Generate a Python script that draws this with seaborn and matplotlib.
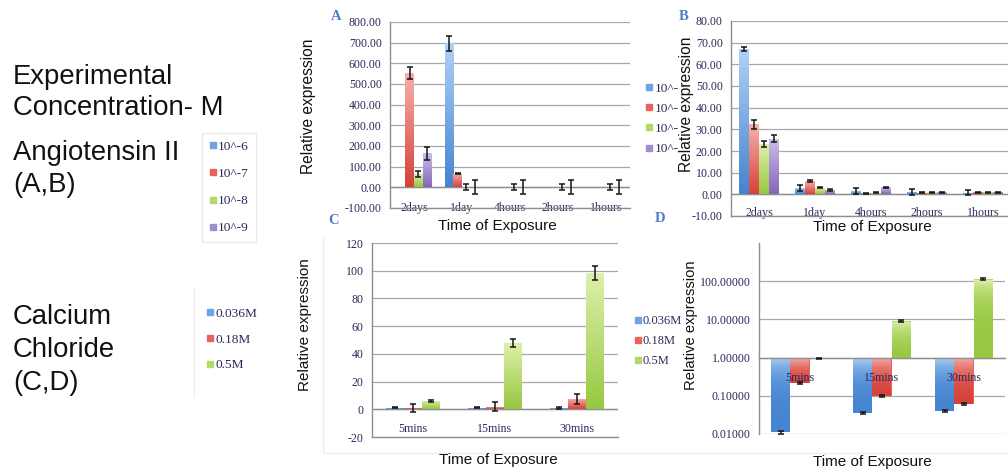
import numpy as np
import pandas as pd
import seaborn as sns
import matplotlib
matplotlib.use("Agg")
import matplotlib.pyplot as plt
from matplotlib.colors import LinearSegmentedColormap
from matplotlib.lines import Line2D
from matplotlib.ticker import FormatStrFormatter
from matplotlib import transforms

# ---------------- data ----------------
# Angiotensin II, panels A and B
ang_times = ["2days", "1day", "4hours", "2hours", "1hours"]
ang_levels = ["10^-6", "10^-7", "10^-8", "10^-9"]

a_1e6 = [2, 697, 3, 3, 3]
a_1e7 = [552, 66, 3, 3, 3]
a_1e8 = [65, 3, 3, 3, 3]
a_1e9 = [164, 1, 1, 1, 1]
a_1e6_err = [0, 37, 0, 0, 0]
a_1e7_err = [28, 3, 0, 0, 0]
a_1e8_err = [15, 15, 15, 15, 15]
a_1e9_err = [32, 34, 34, 34, 34]

b_1e6 = [67.2, 3.0, 1.5, 1.0, 0.8]
b_1e7 = [32.3, 6.0, 0.4, 0.8, 1.0]
b_1e8 = [23.2, 3.0, 0.8, 0.9, 1.0]
b_1e9 = [25.7, 2.0, 3.2, 0.9, 1.0]
b_1e6_err = [1.0, 1.5, 1.5, 1.3, 1.3]
b_1e7_err = [2.0, 0.4, 0.2, 0.2, 0.2]
b_1e8_err = [1.5, 0.3, 0.2, 0.2, 0.2]
b_1e9_err = [1.5, 0.3, 0.3, 0.2, 0.2]

# Calcium chloride, panels C and D
cacl_times = ["5mins", "15mins", "30mins"]
cacl_levels = ["0.036M", "0.18M", "0.5M"]

c_036 = [1.0, 1.0, 1.0]
c_018 = [1.0, 2.0, 7.5]
c_05 = [6.0, 48.0, 98.5]
c_036_err = [0.4, 0.4, 0.5]
c_018_err = [3.0, 3.0, 3.5]
c_05_err = [0.6, 3.0, 5.0]

d_036 = [0.011, 0.036, 0.040]
d_018 = [0.22, 0.10, 0.062]
d_05 = [0.95, 9.0, 112.0]
d_036_err = [0.0007, 0.002, 0.0025]
d_018_err = [0.012, 0.006, 0.004]
d_05_err = [0.05, 0.5, 6.0]

# ---------------- style ----------------
W, H = 1008, 471
sns.set_style("white")
plt.rcParams["font.family"] = ["Liberation Sans", "DejaVu Sans"]

serif = "Liberation Serif"
tick_color = "#2b2a5c"
grid_color = "#a8a8a8"
spine_color = "#8e8e8e"

mid_colors = ["#6ea3e4", "#e9625b", "#b3da68", "#a38bd0"]
top_colors = ["#b0d2f6", "#f7b0ab", "#def0ab", "#cdbde8"]
bottom_colors = ["#4584d0", "#d6413a", "#97c842", "#8566b8"]

fig = plt.figure(figsize=(W / 100, H / 100), dpi=100)


def px_axes(x0, y0, x1, y1):
    """Axes from pixel box (left, top, right, bottom)."""
    return fig.add_axes([x0 / W, 1 - y1 / H, (x1 - x0) / W, (y1 - y0) / H])


def long_frame(cats, levels, series):
    rows = []
    for lvl, vals in zip(levels, series):
        for c, v in zip(cats, vals):
            rows.append((c, lvl, v))
    return pd.DataFrame(rows, columns=["time", "conc", "value"])


def shade(ax, n_series):
    """Paint each bar with a vertical light-to-dark gradient."""
    grad = np.linspace(0, 1, 64).reshape(-1, 1)
    for k, cont in enumerate(ax.containers[:n_series]):
        cmap = LinearSegmentedColormap.from_list(
            f"g{k}", [bottom_colors[k], top_colors[k]])
        for bar in cont:
            x, y = bar.get_xy()
            w, h = bar.get_width(), bar.get_height()
            lo, hi = min(y, y + h), max(y, y + h)
            im = ax.imshow(grad, cmap=cmap, origin="lower", aspect="auto",
                           extent=[x, x + w, lo, hi], zorder=1.1,
                           interpolation="bilinear")
            im.set_clip_path(bar)


def add_errors(ax, series, errs):
    for cont, vals, err in zip(ax.containers, series, errs):
        xs, ys, es = [], [], []
        for bar, v, e in zip(cont, vals, err):
            if e > 0:
                xs.append(bar.get_x() + bar.get_width() / 2)
                ys.append(v)
                es.append(e)
        ax.errorbar(xs, ys, yerr=es, fmt="none", ecolor="#151515",
                    elinewidth=1.1, capsize=2.4, capthick=1.1, zorder=4)


def style_axes(ax, ncat, fmt, label_pad):
    ax.set_axisbelow(True)
    ax.grid(axis="y", color=grid_color, linewidth=0.9)
    ax.grid(axis="x", visible=False)
    for s in ("top", "right"):
        ax.spines[s].set_visible(False)
    for s in ("left", "bottom"):
        ax.spines[s].set_color(spine_color)
        ax.spines[s].set_linewidth(1.0)
    ax.set_xlim(-0.5, ncat - 0.5)
    ax.yaxis.set_major_formatter(FormatStrFormatter(fmt))
    ax.tick_params(axis="y", length=4, width=0.9, color=spine_color,
                   labelsize=8.6, labelcolor=tick_color, pad=2)
    ax.tick_params(axis="x", length=0, labelsize=8.6, labelcolor=tick_color,
                   pad=label_pad)
    for t in ax.get_yticklabels() + ax.get_xticklabels():
        t.set_family(serif)
    for t in ax.get_xticklabels():
        t.set_va("center")
    ax.set_xlabel("")
    ax.set_ylabel("")


def bar_panel(ax, cats, levels, series, width, **kw):
    df = long_frame(cats, levels, series)
    sns.barplot(data=df, x="time", y="value", hue="conc", order=cats,
                hue_order=levels, palette=mid_colors[:len(levels)],
                width=width, saturation=1, errorbar=None, legend=False,
                linewidth=0, ax=ax, **kw)


# ---------------- panel A ----------------
axA = px_axes(390, 22, 630, 208)
a_series = [a_1e6, a_1e7, a_1e8, a_1e9]
bar_panel(axA, ang_times, ang_levels, a_series, 0.72)
shade(axA, 4)
add_errors(axA, a_series, [a_1e6_err, a_1e7_err, a_1e8_err, a_1e9_err])
axA.set_ylim(-100, 800)
axA.set_yticks(np.arange(-100, 801, 100))
axA.axhline(0, color=spine_color, linewidth=1.0, zorder=0.8)
style_axes(axA, 5, "%.2f", 0)

# ---------------- panel B ----------------
axB = px_axes(731, 21, 1011, 216)
b_series = [b_1e6, b_1e7, b_1e8, b_1e9]
bar_panel(axB, ang_times, ang_levels, b_series, 0.71)
shade(axB, 4)
add_errors(axB, b_series, [b_1e6_err, b_1e7_err, b_1e8_err, b_1e9_err])
axB.set_ylim(-10, 80)
axB.set_yticks(np.arange(-10, 81, 10))
axB.axhline(0, color=spine_color, linewidth=1.0, zorder=0.8)
style_axes(axB, 5, "%.2f", -2)

# ---------------- panel C ----------------
axC = px_axes(372, 243, 618, 437)
c_series = [c_036, c_018, c_05]
bar_panel(axC, cacl_times, cacl_levels, c_series, 0.65)
shade(axC, 3)
add_errors(axC, c_series, [c_036_err, c_018_err, c_05_err])
axC.set_ylim(-20, 120)
axC.set_yticks(np.arange(-20, 121, 20))
axC.axhline(0, color=spine_color, linewidth=1.0, zorder=0.8)
style_axes(axC, 3, "%d", -6)

# ---------------- panel D (log axis, bars hang from 1) ----------------
axD = px_axes(759, 243, 1005, 434)
d_series = [d_036, d_018, d_05]
dfD = long_frame(cacl_times, cacl_levels, d_series)
dfD["rise"] = dfD["value"] - 1.0
sns.barplot(data=dfD, x="time", y="rise", hue="conc", order=cacl_times,
            hue_order=cacl_levels, palette=mid_colors[:3], width=0.70,
            saturation=1, errorbar=None, legend=False, linewidth=0,
            bottom=1.0, ax=axD)
axD.set_yscale("log")
axD.set_ylim(0.01, 1000)
shade(axD, 3)
add_errors(axD, d_series, [d_036_err, d_018_err, d_05_err])
axD.set_yticks([0.01, 0.1, 1, 10, 100])
axD.minorticks_off()
style_axes(axD, 3, "%.5f", 0)
axD.set_ylim(0.01, 1000)
axD.spines["bottom"].set_position(("data", 1.0))
axD.set_xticks(range(3))
axD.set_xticklabels([])
below = transforms.offset_copy(axD.transData, fig=fig, y=-20, units="dots")
for i, lab in enumerate(cacl_times):
    axD.text(i, 1.0, lab, transform=below, ha="center", va="center",
             family=serif, fontsize=8.6, color=tick_color, zorder=6)

# ---------------- panel letters and axis titles ----------------
for letter, (x, y) in {"A": (336, 17), "B": (684, 17),
                       "C": (334, 221), "D": (660, 219)}.items():
    fig.text(x / W, 1 - y / H, letter, family=serif, fontweight="bold",
             fontsize=10.5, color="#4d7cc4", ha="center", va="center")

for x, y, fs in [(308, 106, 11.2), (686, 104, 11.2),
                 (305, 325, 11.0), (691, 325, 10.6)]:
    fig.text(x / W, 1 - y / H, "Relative expression", rotation=90,
             fontsize=fs, ha="center", va="center", color="#111111")

for x, y in [(497, 226), (872, 227), (498, 460), (872, 462)]:
    fig.text(x / W, 1 - y / H, "Time of Exposure", fontsize=11,
             ha="center", va="center", color="#111111")

# ---------------- left-hand description ----------------
for txt, y in [("Experimental", 77), ("Concentration- M", 108),
               ("Angiotensin II", 153), ("(A,B)", 185),
               ("Calcium", 317), ("Chloride", 350), ("(C,D)", 383)]:
    fig.text(13 / W, 1 - y / H, txt, fontsize=19.8, ha="left", va="center",
             color="#111111")

# ---------------- legends ----------------
def handles(n):
    return [Line2D([], [], marker="s", ls="", color=mid_colors[k],
                   markersize=4.2) for k in range(n)]


def legend_style(size):
    return dict(loc="upper left", prop={"family": serif, "size": size},
                labelcolor=tick_color, handlelength=0.5,
                handletextpad=0.15, borderaxespad=0, fancybox=False)


fig.legend(handles(4), ang_levels, bbox_to_anchor=(202 / W, 1 - 133 / H),
           frameon=True, edgecolor="#e6e6e6", labelspacing=1.12,
           borderpad=0.55, **legend_style(9.6))
fig.legend(handles(3), cacl_levels, bbox_to_anchor=(204 / W, 1 - 305 / H),
           frameon=False, labelspacing=1.0, borderpad=0.2,
           **legend_style(9.6))
fig.legend(handles(4), ["10^-"] * 4, bbox_to_anchor=(643 / W, 1 - 80 / H),
           frameon=False, labelspacing=0.58, borderpad=0.2,
           **legend_style(9.6))
fig.legend(handles(3), cacl_levels, bbox_to_anchor=(632 / W, 1 - 313 / H),
           frameon=False, labelspacing=0.62, borderpad=0.2,
           **legend_style(9.0))

# faint chart-area borders
for xs, ys in [((194, 194), (287, 397)), ((323, 323), (236, 452)),
               ((323, 1008), (453, 453))]:
    fig.add_artist(Line2D([x / W for x in xs], [1 - y / H for y in ys],
                          color="#ececec", linewidth=0.8))

fig.savefig("out.png", dpi=100)
